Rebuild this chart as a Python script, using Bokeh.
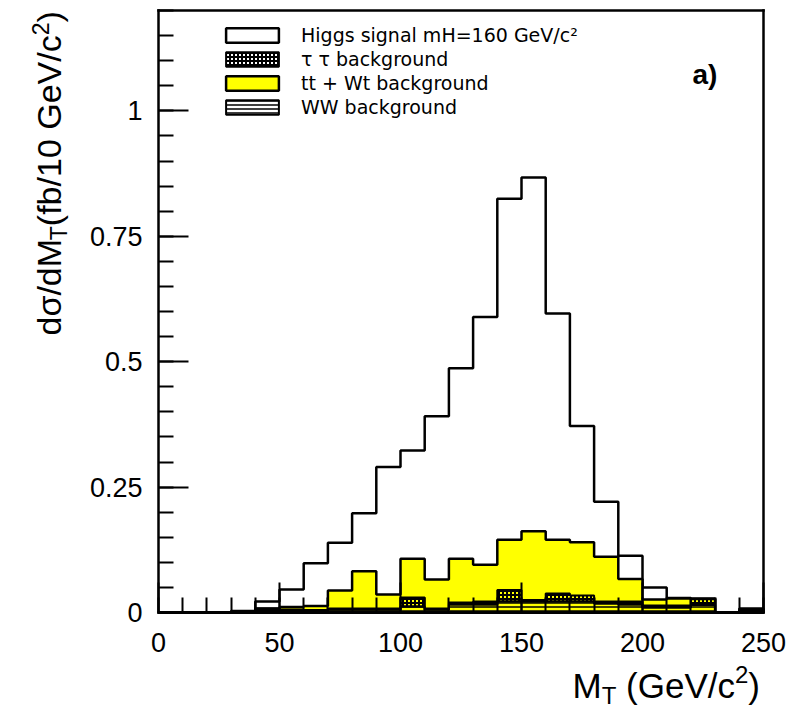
import math
from bokeh.plotting import figure
from bokeh.models import FixedTicker, Label, Legend, LegendItem, Range1d, LinearAxis
from bokeh.embed import file_html
from bokeh.resources import INLINE

# ---------------- data ----------------
bin_edges = list(range(0, 260, 10))          # M_T bins, GeV/c^2
# stacked tops: each series includes everything drawn below it
stack_higgs = [0, 0, 0, 0.003, 0.022, 0.046, 0.098, 0.139, 0.198, 0.290, 0.323, 0.391, 0.487,
               0.589, 0.825, 0.867, 0.596, 0.372, 0.221, 0.113, 0.050, 0.029, 0.028, 0.0, 0.008]
stack_ttwt = [0, 0, 0, 0.002, 0.008, 0.011, 0.013, 0.044, 0.082, 0.036, 0.107, 0.066, 0.107,
              0.095, 0.145, 0.162, 0.145, 0.140, 0.111, 0.067, 0.026, 0.028, 0.027, 0.0, 0.005]
stack_tautau = [0, 0, 0, 0.002, 0.008, 0.006, 0.005, 0.008, 0.008, 0.008, 0.030, 0.008, 0.020,
                0.022, 0.045, 0.025, 0.038, 0.034, 0.022, 0.022, 0.014, 0.014, 0.027, 0.0, 0.003]
stack_ww = [0, 0, 0, 0.002, 0.004, 0.004, 0.004, 0.006, 0.006, 0.006, 0.012, 0.006, 0.016,
            0.016, 0.022, 0.022, 0.022, 0.022, 0.018, 0.016, 0.010, 0.010, 0.015, 0.0, 0.002]

x_lim = (0, 250)
y_lim = (0, 1.2)
x_ticks = [0, 50, 100, 150, 200, 250]
x_minor = list(range(0, 251, 10))
y_ticks = [0, 0.25, 0.5, 0.75, 1.0]
y_tick_labels = {0: "0", 0.25: "0.25", 0.5: "0.5", 0.75: "0.75", 1.0: "1"}
y_minor = [round(0.05 * k, 2) for k in range(0, 25)]

legend_labels = ["Higgs signal mH=160 GeV/c²", "τ τ background",
                 "tt + Wt background", "WW background"]


def step_path(edges, tops):
    xs, ys = [edges[0]], [0.0]
    for i, t in enumerate(tops):
        xs += [edges[i], edges[i + 1]]
        ys += [t, t]
    xs.append(edges[-1])
    ys.append(0.0)
    return xs, ys


def band_path(edges, lows, highs):
    ux, uy, lx, ly = [], [], [], []
    for i in range(len(highs)):
        ux += [edges[i], edges[i + 1]]
        uy += [highs[i], highs[i]]
        lx += [edges[i], edges[i + 1]]
        ly += [lows[i], lows[i]]
    return ux + lx[::-1], uy + ly[::-1]


# ---------------- layout: plot box in canvas pixels ----------------
W, H = 794, 713
BOX_L, BOX_R, BOX_T, BOX_B = 158, 763, 10, 612
XS = (BOX_R - BOX_L) / (x_lim[1] - x_lim[0])
YS = (BOX_B - BOX_T) / (y_lim[1] - y_lim[0])
xr = Range1d(x_lim[0] - BOX_L / XS, x_lim[1] + (W - BOX_R) / XS)
yr = Range1d(y_lim[0] - (H - BOX_B) / YS, y_lim[1] + BOX_T / YS)


def dx(px):
    return x_lim[0] + (px - BOX_L) / XS


def dy(py):
    return y_lim[0] + (BOX_B - py) / YS


p = figure(width=W, height=H, output_backend="svg", toolbar_location=None,
           x_range=xr, y_range=yr, x_axis_location=None, y_axis_location=None,
           min_border=0)
p.xgrid.visible = False
p.ygrid.visible = False
p.outline_line_color = None
p.background_fill_color = "white"

LW = 2.5
xs, ys = step_path(bin_edges, stack_higgs)
r_sig = p.patch(xs, ys, fill_color="white", line_color="black", line_width=LW)
xs, ys = step_path(bin_edges, stack_ttwt)
r_tt = p.patch(xs, ys, fill_color="#ffff00", line_color="black", line_width=LW)
xs, ys = band_path(bin_edges, stack_ww, stack_tautau)
r_tau = p.patch(xs, ys, fill_alpha=0, hatch_pattern="+", hatch_color="black",
                hatch_scale=4, hatch_weight=2, line_color="black", line_width=2)
xs, ys = step_path(bin_edges, stack_ww)
r_ww = p.patch(xs, ys, fill_alpha=0, hatch_pattern="horizontal_line", hatch_color="black",
               hatch_scale=4, hatch_weight=1.5, line_color="black", line_width=2)


def style_axis(ax):
    ax.axis_line_width = 2.5
    ax.axis_line_color = "black"
    ax.axis_line_cap = "square"
    ax.major_tick_in = 30
    ax.major_tick_out = 0
    ax.minor_tick_in = 15
    ax.minor_tick_out = 0
    ax.major_tick_line_width = 2
    ax.minor_tick_line_width = 2
    ax.major_tick_line_color = "black"
    ax.minor_tick_line_color = "black"
    ax.major_label_text_font = "Liberation Sans"
    ax.major_label_text_font_size = "27px"
    ax.major_label_text_color = "black"


xaxis = LinearAxis(fixed_location=y_lim[0], bounds=x_lim,
                   ticker=FixedTicker(ticks=x_ticks, minor_ticks=x_minor))
style_axis(xaxis)
xaxis.major_label_standoff = 20
p.add_layout(xaxis, "below")

yaxis = LinearAxis(fixed_location=x_lim[0], bounds=y_lim,
                   ticker=FixedTicker(ticks=y_ticks, minor_ticks=y_minor),
                   major_label_overrides=y_tick_labels)
style_axis(yaxis)
yaxis.major_label_standoff = 16
p.add_layout(yaxis, "left")

# plain frame edges (top and right) as tick-less axes
top_axis = LinearAxis(fixed_location=y_lim[1], bounds=x_lim,
                      ticker=FixedTicker(ticks=[], minor_ticks=[]))
right_axis = LinearAxis(fixed_location=x_lim[1], bounds=y_lim,
                        ticker=FixedTicker(ticks=[], minor_ticks=[]))
for ax in (top_axis, right_axis):
    ax.axis_line_width = 2.5
    ax.axis_line_color = "black"
    ax.axis_line_cap = "square"
    ax.major_tick_line_color = None
    ax.minor_tick_line_color = None
p.add_layout(top_axis, "above")
p.add_layout(right_axis, "right")

# legend
legend = Legend(items=[LegendItem(label=legend_labels[0], renderers=[r_sig]),
                       LegendItem(label=legend_labels[1], renderers=[r_tau]),
                       LegendItem(label=legend_labels[2], renderers=[r_tt]),
                       LegendItem(label=legend_labels[3], renderers=[r_ww])],
                location=(219, 595), glyph_width=66, glyph_height=18, label_standoff=16,
                spacing=2, padding=0, margin=0, border_line_alpha=0, background_fill_alpha=0,
                label_text_font="DejaVu Sans", label_text_font_size="19px", label_height=18,
                label_text_color="black")
p.add_layout(legend)

# ---------------- titles placed by canvas pixels (x, baseline) ----------------
FONT = "Liberation Sans"
EM = {"M": .833, "T": .611, " ": .278, "(GeV/c": 3.112, "2": .556, ")": .333,
      "dσ/dM": 2.803, "(fb/10 GeV/c": 5.614}
SHIFT = 0.36   # observed drop of the rendered glyphs below the anchor, in em


def lab(text, x, y, size, angle=0.0, bold=False):
    if angle:
        x = x - SHIFT * size       # rotated: "down" is +x on the page
    else:
        y = y - SHIFT * size
    p.add_layout(Label(x=dx(x), y=dy(y), text=text, text_font=FONT,
                       text_font_size=f"{size}px", angle=angle,
                       text_font_style="bold" if bold else "normal",
                       text_align="left", text_baseline="alphabetic", text_color="black"))


# x-axis title: M_T (GeV/c^2)
XB, XSM = 35, 24
x = 572
lab("M", x, 698, XB); x += EM["M"] * XB
lab("T", x, 704, XSM); x += EM["T"] * XSM + EM[" "] * XB
lab("(GeV/c", x, 698, XB); x += EM["(GeV/c"] * XB
lab("2", x, 683, XSM); x += EM["2"] * XSM
lab(")", x, 698, XB)

# y-axis title: dσ/dM_T (fb/10 GeV/c^2), rotated
BIG, SMALL = 34, 23
y = 335
A = math.pi / 2
lab("dσ/dM", 61, y, BIG, A); y -= EM["dσ/dM"] * BIG
lab("T", 67, y, SMALL, A); y -= EM["T"] * SMALL
lab("(fb/10 GeV/c", 61, y, BIG, A); y -= EM["(fb/10 GeV/c"] * BIG
lab("2", 48, y, SMALL, A); y -= EM["2"] * SMALL
lab(")", 61, y, BIG, A)

lab("a)", 692, 84, 28, bold=True)

open("out.html", "w").write(file_html(p, INLINE))
